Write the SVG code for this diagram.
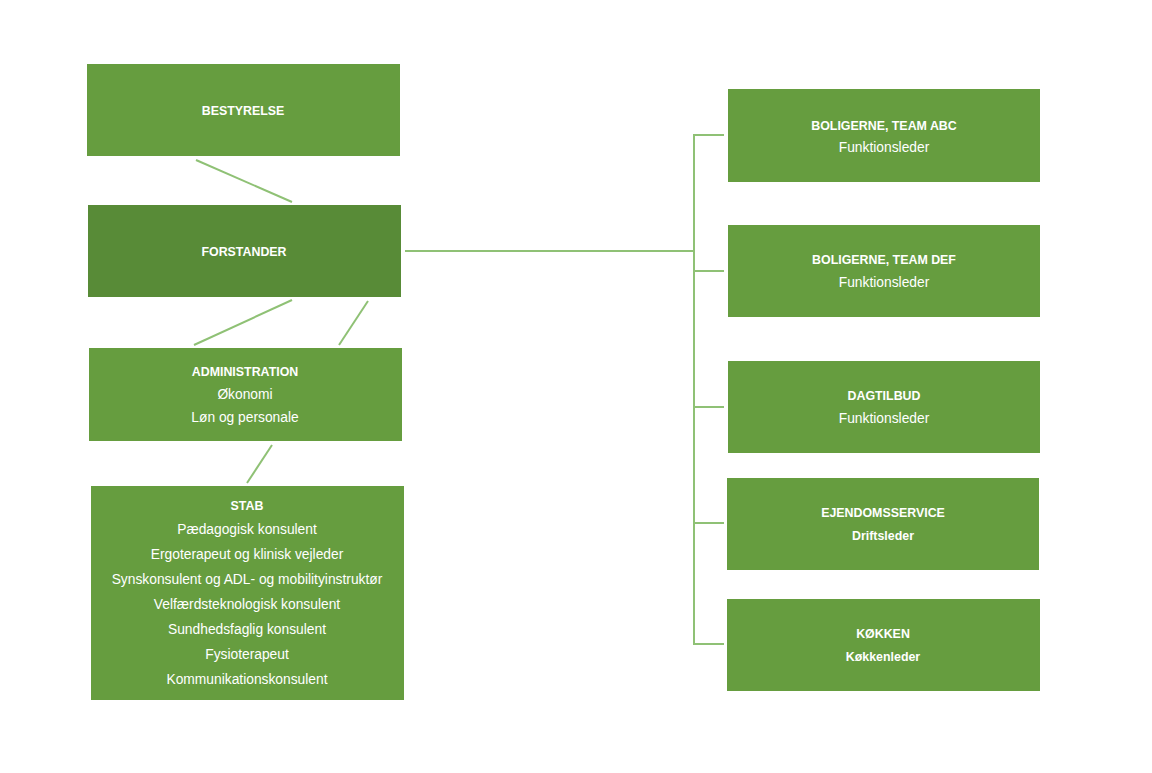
<svg xmlns="http://www.w3.org/2000/svg" width="1152" height="773" viewBox="0 0 1152 773">
<style>
.box{fill:#669d3f}
.dark{fill:#588b37}
.c{stroke:#8fc175;stroke-width:2;fill:none}
text{font-family:"Liberation Sans",Arial,sans-serif;font-size:13.8px;fill:#ffffff;text-anchor:middle}
.b{font-weight:bold;font-size:12.4px}
</style>
<rect width="1152" height="773" fill="#ffffff"/>
<g id="connectors">
<line class="c" x1="196" y1="160" x2="292" y2="202"/>
<line class="c" x1="292" y1="300" x2="194" y2="345"/>
<line class="c" x1="368" y1="301" x2="339" y2="345"/>
<line class="c" x1="272" y1="445" x2="247" y2="483"/>
<line class="c" x1="405" y1="251" x2="694" y2="251"/>
<line class="c" x1="694" y1="134" x2="694" y2="645"/>
<line class="c" x1="693" y1="135" x2="724" y2="135"/>
<line class="c" x1="693" y1="271" x2="724" y2="271"/>
<line class="c" x1="693" y1="407" x2="724" y2="407"/>
<line class="c" x1="693" y1="523" x2="724" y2="523"/>
<line class="c" x1="693" y1="644" x2="724" y2="644"/>
</g>
<g id="bestyrelse">
<rect class="box" x="87" y="64" width="313" height="92"/>
<text class="b" x="243" y="115">BESTYRELSE</text>
</g>
<g id="forstander">
<rect class="dark" x="88" y="205" width="313" height="92"/>
<text class="b" x="244" y="256">FORSTANDER</text>
</g>
<g id="administration">
<rect class="box" x="89" y="348" width="313" height="93"/>
<text class="b" x="245" y="376">ADMINISTRATION</text>
<text x="245" y="399">Økonomi</text>
<text x="245" y="422">Løn og personale</text>
</g>
<g id="stab">
<rect class="box" x="91" y="486" width="313" height="214"/>
<text class="b" x="247" y="510">STAB</text>
<text x="247" y="534">Pædagogisk konsulent</text>
<text x="247" y="559">Ergoterapeut og klinisk vejleder</text>
<text x="247" y="584">Synskonsulent og ADL- og mobilityinstruktør</text>
<text x="247" y="609">Velfærdsteknologisk konsulent</text>
<text x="247" y="634">Sundhedsfaglig konsulent</text>
<text x="247" y="659">Fysioterapeut</text>
<text x="247" y="684">Kommunikationskonsulent</text>
</g>
<g id="team-abc">
<rect class="box" x="728" y="89" width="312" height="93"/>
<text class="b" x="884" y="130">BOLIGERNE, TEAM ABC</text>
<text x="884" y="152">Funktionsleder</text>
</g>
<g id="team-def">
<rect class="box" x="728" y="225" width="312" height="92"/>
<text class="b" x="884" y="264">BOLIGERNE, TEAM DEF</text>
<text x="884" y="287">Funktionsleder</text>
</g>
<g id="dagtilbud">
<rect class="box" x="728" y="361" width="312" height="92"/>
<text class="b" x="884" y="400">DAGTILBUD</text>
<text x="884" y="423">Funktionsleder</text>
</g>
<g id="ejendomsservice">
<rect class="box" x="727" y="478" width="312" height="92"/>
<text class="b" x="883" y="517">EJENDOMSSERVICE</text>
<text class="b" x="883" y="540">Driftsleder</text>
</g>
<g id="kokken">
<rect class="box" x="727" y="599" width="313" height="92"/>
<text class="b" x="883" y="638">KØKKEN</text>
<text class="b" x="883" y="661">Køkkenleder</text>
</g>
</svg>
